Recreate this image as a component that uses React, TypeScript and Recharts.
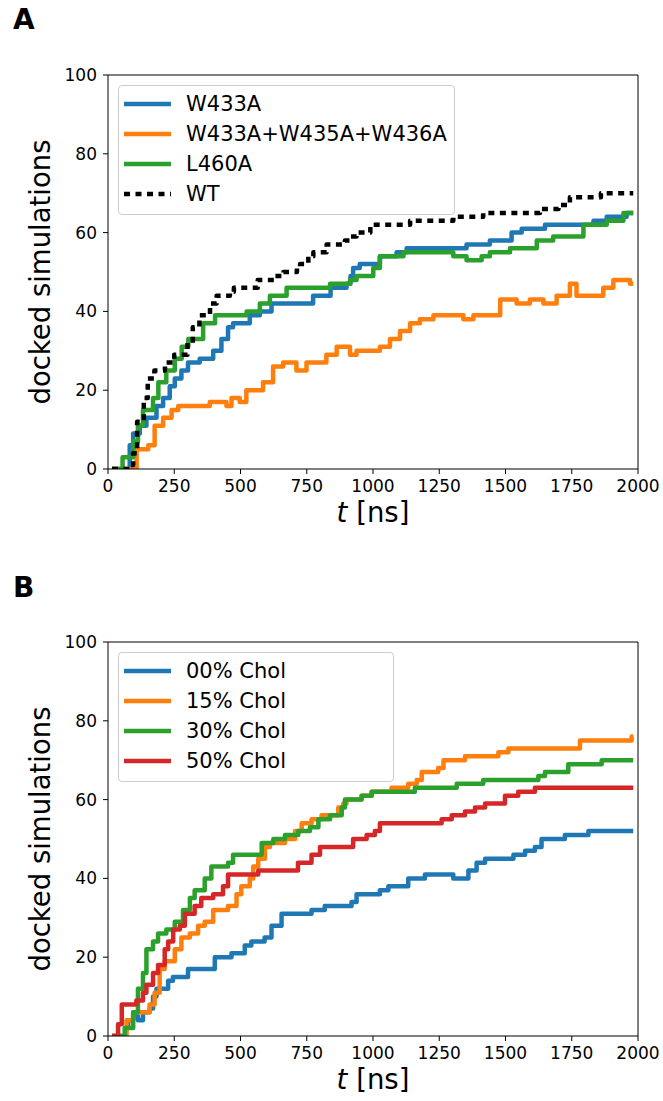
import React from 'react'
import { LineChart, Line, XAxis, YAxis, ReferenceLine, Legend } from 'recharts'

const FONT = '"DejaVu Sans", sans-serif'

const COLORS = {
  blue: '#1f77b4',
  orange: '#ff7f0e',
  green: '#2ca02c',
  red: '#d62728',
  ink: '#000000',
  frame: '#cccccc',
}

const xTicks = [0, 250, 500, 750, 1000, 1250, 1500, 1750, 2000]
const yTicks = [0, 20, 40, 60, 80, 100]

// panel A
const tW433A = [15, 70, 82, 95, 120, 145, 183, 208, 233, 252, 277, 302, 346, 397, 428, 453, 472, 535, 573, 617, 774, 840, 900, 915, 925, 950, 1026, 1089, 1127, 1353, 1441, 1523, 1561, 1649, 1832, 1882, 1957, 1982]
const nW433A = [0, 0, 6, 9, 11, 13, 16, 18, 21, 23, 25, 27, 28, 30, 33, 36, 37, 39, 40, 42, 44, 46, 47, 49, 51, 52, 54, 55, 56, 57, 58, 60, 61, 62, 63, 64, 65, 65]

const tTriple = [15, 108, 152, 176, 208, 240, 265, 384, 447, 466, 497, 522, 585, 623, 661, 711, 749, 824, 863, 913, 938, 1026, 1064, 1102, 1140, 1177, 1228, 1341, 1379, 1480, 1542, 1592, 1643, 1693, 1743, 1768, 1869, 1907, 1970, 1982]
const nTriple = [0, 5, 6, 11, 13, 15, 16, 17, 16, 18, 17, 20, 22, 26, 27, 25, 27, 29, 31, 29, 30, 31, 33, 35, 37, 38, 39, 38, 39, 43, 42, 43, 42, 44, 47, 44, 46, 48, 47, 47]

const tL460A = [15, 55, 95, 113, 132, 170, 190, 220, 252, 278, 303, 359, 404, 523, 573, 611, 674, 838, 913, 938, 1001, 1026, 1115, 1303, 1353, 1410, 1441, 1517, 1618, 1680, 1794, 1882, 1945, 1982]
const nL460A = [0, 3, 7, 11, 15, 18, 22, 25, 28, 31, 33, 37, 39, 40, 42, 44, 46, 47, 48, 49, 51, 54, 55, 54, 53, 54, 55, 56, 58, 59, 62, 63, 65, 65]

const tWT = [15, 85, 95, 110, 135, 150, 175, 215, 250, 300, 320, 345, 385, 410, 460, 475, 565, 630, 662, 713, 725, 756, 775, 825, 894, 913, 938, 990, 1140, 1303, 1416, 1630, 1700, 1743, 1860, 1982]
const nWT = [0, 1, 4, 12, 18, 23, 25, 27, 29, 32, 36, 39, 42, 44, 45, 46, 48, 49, 50, 51, 52, 54, 55, 57, 58, 59, 60, 62, 63, 64, 65, 66, 67, 69, 70, 70]

// panel B
const tChol00 = [15, 66, 76, 95, 113, 132, 157, 170, 183, 227, 245, 302, 403, 466, 516, 541, 591, 617, 655, 768, 818, 919, 938, 1026, 1058, 1133, 1196, 1303, 1360, 1391, 1423, 1530, 1574, 1611, 1636, 1724, 1813, 1982]
const nChol00 = [0, 2, 4, 5, 4, 6, 7, 10, 12, 14, 15, 17, 20, 21, 23, 24, 25, 28, 31, 32, 33, 34, 36, 37, 38, 40, 41, 40, 42, 44, 45, 46, 47, 48, 50, 51, 52, 52]

const tChol15 = [15, 70, 95, 157, 176, 195, 214, 252, 277, 309, 340, 365, 397, 453, 485, 503, 535, 548, 567, 592, 611, 668, 706, 731, 768, 806, 869, 888, 900, 957, 995, 1070, 1133, 1165, 1184, 1246, 1266, 1347, 1473, 1511, 1781, 1976, 1982]
const nChol15 = [0, 4, 6, 8, 11, 17, 19, 22, 25, 26, 28, 29, 32, 33, 36, 38, 40, 43, 45, 48, 49, 50, 52, 54, 55, 56, 58, 59, 60, 61, 62, 63, 64, 65, 67, 68, 70, 71, 72, 73, 75, 76, 76]

const tChol30 = [15, 63, 95, 113, 132, 145, 170, 189, 220, 252, 283, 309, 327, 365, 390, 453, 472, 580, 624, 668, 718, 762, 794, 838, 882, 894, 957, 995, 1158, 1316, 1416, 1624, 1649, 1737, 1863, 1982]
const nChol30 = [0, 2, 6, 12, 16, 22, 24, 26, 27, 29, 32, 35, 37, 40, 43, 44, 46, 49, 50, 51, 52, 53, 55, 56, 58, 60, 61, 62, 63, 64, 65, 66, 67, 69, 70, 70]

const tChol50 = [15, 38, 52, 107, 132, 145, 170, 189, 214, 227, 246, 271, 290, 327, 352, 397, 434, 453, 567, 717, 768, 800, 925, 976, 1007, 1026, 1259, 1297, 1347, 1385, 1423, 1498, 1548, 1611, 1982]
const nChol50 = [0, 3, 8, 9, 11, 13, 16, 18, 22, 24, 27, 28, 31, 33, 35, 36, 38, 41, 42, 44, 46, 48, 50, 51, 52, 54, 55, 56, 57, 58, 59, 61, 62, 63, 63]

type Series = { name: string; color: string; dash?: string; t: number[]; n: number[] }

const seriesA: Series[] = [
  { name: 'W433A', color: COLORS.blue, t: tW433A, n: nW433A },
  { name: 'W433A+W435A+W436A', color: COLORS.orange, t: tTriple, n: nTriple },
  { name: 'L460A', color: COLORS.green, t: tL460A, n: nL460A },
  { name: 'WT', color: COLORS.ink, dash: '6 5.5', t: tWT, n: nWT },
]

const seriesB: Series[] = [
  { name: '00% Chol', color: COLORS.blue, t: tChol00, n: nChol00 },
  { name: '15% Chol', color: COLORS.orange, t: tChol15, n: nChol15 },
  { name: '30% Chol', color: COLORS.green, t: tChol30, n: nChol30 },
  { name: '50% Chol', color: COLORS.red, t: tChol50, n: nChol50 },
]

const toPoints = (t: number[], n: number[]) => t.map((x, i) => ({ t: x, n: n[i] }))

function LegendBox({ items, width }: { items: Series[]; width: number }) {
  return (
    <div
      style={{
        width, height: 130, boxSizing: 'border-box', position: 'relative',
        border: `1px solid ${COLORS.frame}`, borderRadius: 4,
        background: 'rgba(255,255,255,0.8)', fontFamily: FONT, fontSize: 21, color: '#000',
      }}
    >
      {items.map((s, i) => (
        <div key={s.name} style={{ position: 'absolute', left: 0, top: 3 + i * 30, height: 30, display: 'flex', alignItems: 'center', whiteSpace: 'nowrap' }}>
          <svg width={62} height={30} style={{ display: 'block' }}>
            <line x1={5} x2={52} y1={15} y2={15} stroke={s.color} strokeWidth={4.5} strokeDasharray={s.dash} />
          </svg>
          <span style={{ marginLeft: 5, lineHeight: '30px' }}>{s.name}</span>
        </div>
      ))}
    </div>
  )
}

const YLabel = ({ viewBox }: any) => {
  const x = viewBox.x + 50
  const y = viewBox.y + viewBox.height / 2
  return (
    <text x={x} y={y} transform={`rotate(-90 ${x} ${y})`} textAnchor="middle" fontSize={27.5} fontFamily={FONT} fill="#000">
      docked simulations
    </text>
  )
}

const XLabel = ({ viewBox }: any) => (
  <text x={viewBox.x + viewBox.width / 2} y={viewBox.y + 53} textAnchor="middle" fontSize={27.5} fontFamily={FONT} fill="#000">
    <tspan fontStyle="italic">t</tspan> [ns]
  </text>
)

function Panel({ series, legendWidth }: { series: Series[]; legendWidth: number }) {
  const tick = { fill: '#000', fontSize: 17, fontFamily: FONT }
  return (
    <LineChart width={663} height={530} margin={{ top: 75, right: 25, left: 0, bottom: 1 }}>
      <XAxis
        type="number" dataKey="t" domain={[0, 2000]} ticks={xTicks} height={60}
        tick={tick} tickSize={5} tickMargin={6} stroke={COLORS.ink} allowDataOverflow
        label={{ content: XLabel }}
      />
      <YAxis
        type="number" domain={[0, 100]} ticks={yTicks} width={108}
        tick={tick} tickSize={5} tickMargin={6} stroke={COLORS.ink} allowDataOverflow
        label={{ content: YLabel }}
      />
      <ReferenceLine y={100} stroke={COLORS.ink} strokeWidth={1} />
      <ReferenceLine x={2000} stroke={COLORS.ink} strokeWidth={1} />
      {series.map((s) => (
        <Line
          key={s.name} data={toPoints(s.t, s.n)} dataKey="n" type="stepAfter"
          stroke={s.color} strokeWidth={4.5} strokeDasharray={s.dash} strokeLinejoin="round"
          dot={false} activeDot={false} isAnimationActive={false}
        />
      ))}
      <Legend
        layout="vertical" align="center" verticalAlign="middle"
        wrapperStyle={{ top: 85, left: 118, width: legendWidth }}
        content={() => <LegendBox items={series} width={legendWidth} />}
      />
    </LineChart>
  )
}

const letterStyle: React.CSSProperties = {
  position: 'absolute', left: 13, fontFamily: FONT, fontWeight: 'bold', fontSize: 28, lineHeight: '28px',
}

export default function App() {
  return (
    <div style={{ position: 'absolute', top: 0, left: 0, width: 663, height: 1101, background: '#fff' }}>
      <div style={{ ...letterStyle, top: 6 }}>A</div>
      <div style={{ position: 'absolute', top: 0, left: 0 }}>
        <Panel series={seriesA} legendWidth={337} />
      </div>
      <div style={{ ...letterStyle, top: 574 }}>B</div>
      <div style={{ position: 'absolute', top: 567, left: 0 }}>
        <Panel series={seriesB} legendWidth={276} />
      </div>
    </div>
  )
}
